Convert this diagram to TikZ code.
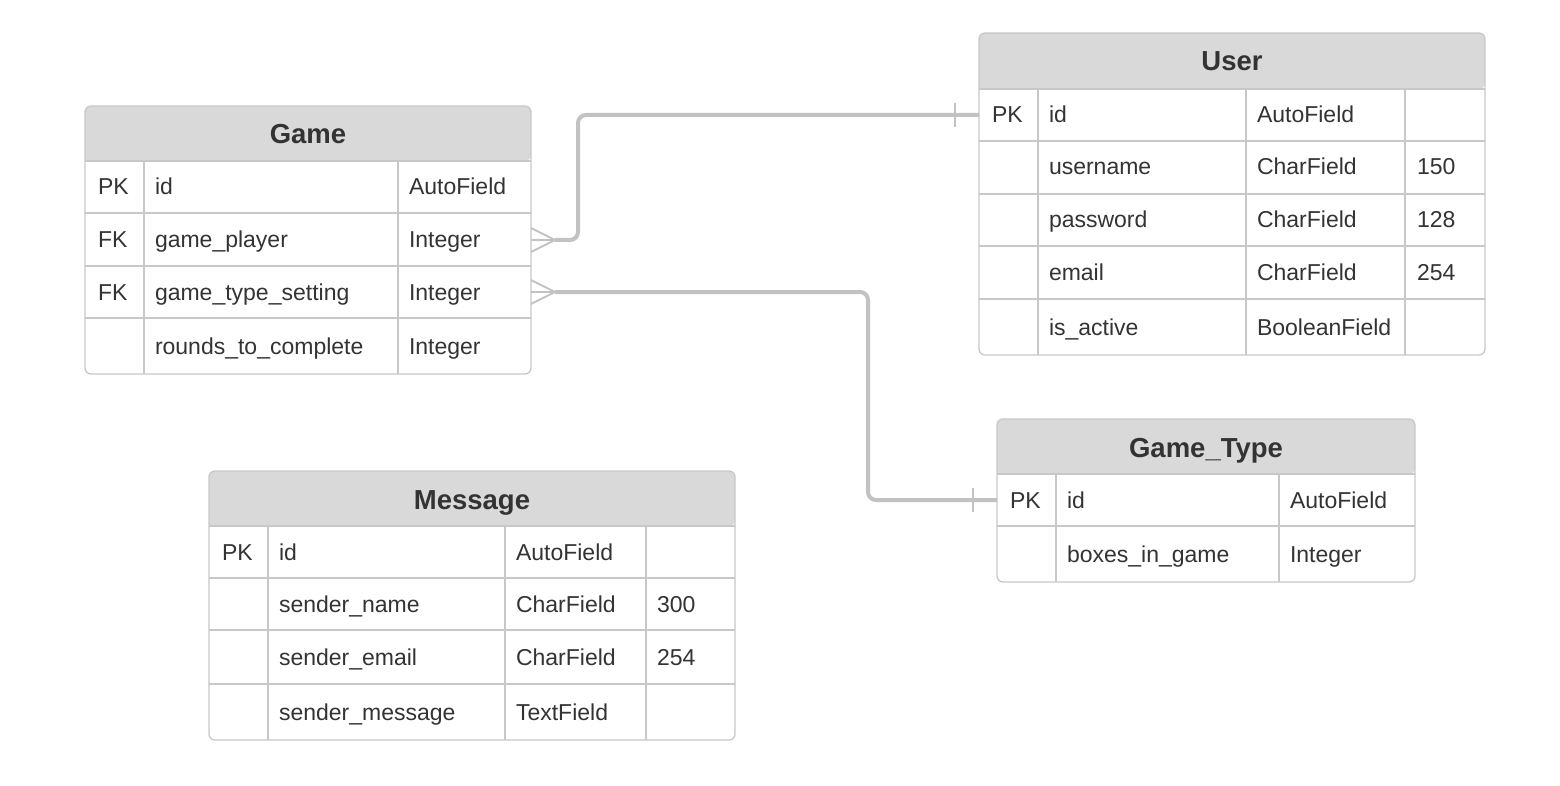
\documentclass[tikz,border=0pt]{standalone}
\usepackage{fontspec}
\setmainfont{Liberation Sans}
\definecolor{ink}{HTML}{333333}
\definecolor{rule}{HTML}{C8C8C8}
\definecolor{headfill}{HTML}{D9D9D9}
\definecolor{linkgray}{HTML}{C2C2C2}
\begin{document}
\begin{tikzpicture}
      [x=1pt,y=-1pt,
       every node/.style={text=ink,font=\fontsize{23}{28}\selectfont,inner sep=0pt,outer sep=0pt},
       title/.style={anchor=base,font=\fontsize{27.5}{32}\selectfont\bfseries},
       field/.style={anchor=base west},
       grid/.style={draw=rule,line width=1.3pt},
       head/.style={fill=headfill},
       link/.style={draw=linkgray,line width=4pt,rounded corners=8pt},
       foot/.style={draw=linkgray,line width=2pt}]
      \useasboundingbox (0,0) rectangle (1560,786);

      % Game
      \path[head,rounded corners=6pt] (85,161) -- (85,106) -- (531,106) -- (531,161) [sharp corners] -- cycle;
      \foreach \y in {161,213,266,318} \draw[grid] (85,\y) -- (531,\y);
      \foreach \x in {144,398} \draw[grid] (\x,161) -- (\x,374);
      \draw[grid,rounded corners=6pt] (85,106) rectangle (531,374);
      \node[title] (game) at (308,144) {Game};
      \foreach \y/\k/\n/\t [count=\i] in {187/PK/id/AutoField, 240/FK/game\_player/Integer,
          292/FK/game\_type\_setting/Integer, 346//rounds\_to\_complete/Integer}
      {
        \node[minimum width=446pt,minimum height=52pt] (game-\i) at (308,\y) {};
        \node[field] at (98,\y+8) {\k};
        \node[field] at (155,\y+8) {\n};
        \node[field] at (409,\y+8) {\t};
      }

      % User
      \path[head,rounded corners=6pt] (979,89) -- (979,33) -- (1485,33) -- (1485,89) [sharp corners] -- cycle;
      \foreach \y in {89,141,194,246,299} \draw[grid] (979,\y) -- (1485,\y);
      \foreach \x in {1038,1246,1405} \draw[grid] (\x,89) -- (\x,355);
      \draw[grid,rounded corners=6pt] (979,33) rectangle (1485,355);
      \node[title] (user) at (1232,71) {User};
      \foreach \y/\k/\n/\t/\l [count=\i] in {115/PK/id/AutoField/, 167//username/CharField/150,
          220//password/CharField/128, 272//email/CharField/254, 327//is\_active/BooleanField/}
      {
        \node[minimum width=506pt,minimum height=52pt] (user-\i) at (1232,\y) {};
        \node[field] at (992,\y+8) {\k};
        \node[field] at (1049,\y+8) {\n};
        \node[field] at (1257,\y+8) {\t};
        \node[field] at (1417,\y+8) {\l};
      }

      % Game_Type
      \path[head,rounded corners=6pt] (997,474) -- (997,419) -- (1415,419) -- (1415,474) [sharp corners] -- cycle;
      \foreach \y in {474,526} \draw[grid] (997,\y) -- (1415,\y);
      \foreach \x in {1056,1279} \draw[grid] (\x,474) -- (\x,582);
      \draw[grid,rounded corners=6pt] (997,419) rectangle (1415,582);
      \node[title] (gtype) at (1206,457) {Game\_Type};
      \foreach \y/\k/\n/\t [count=\i] in {500/PK/id/AutoField, 554//boxes\_in\_game/Integer}
      {
        \node[minimum width=418pt,minimum height=52pt] (gtype-\i) at (1206,\y) {};
        \node[field] at (1010,\y+8) {\k};
        \node[field] at (1067,\y+8) {\n};
        \node[field] at (1290,\y+8) {\t};
      }

      % Message
      \path[head,rounded corners=6pt] (209,526) -- (209,471) -- (735,471) -- (735,526) [sharp corners] -- cycle;
      \foreach \y in {526,578,630,684} \draw[grid] (209,\y) -- (735,\y);
      \foreach \x in {268,505,646} \draw[grid] (\x,526) -- (\x,740);
      \draw[grid,rounded corners=6pt] (209,471) rectangle (735,740);
      \node[title] (message) at (472,509) {Message};
      \foreach \y/\k/\n/\t/\l [count=\i] in {552/PK/id/AutoField/, 604//sender\_name/CharField/300,
          657//sender\_email/CharField/254, 712//sender\_message/TextField/}
      {
        \node[minimum width=526pt,minimum height=52pt] (message-\i) at (472,\y) {};
        \node[field] at (222,\y+8) {\k};
        \node[field] at (279,\y+8) {\n};
        \node[field] at (516,\y+8) {\t};
        \node[field] at (657,\y+8) {\l};
      }

      % relations
      \draw[link] ([xshift=24pt]game-2.east) -- ++(23,0) |- (user-1.west);
      \draw[link] ([xshift=24pt]game-3.east) -- (868,292) |- (gtype-1.west);
      \foreach \r in {game-2,game-3}
      {
        \draw[foot] (\r.east) ++(0,-12) -- ++(24,12) -- ++(-24,12);
        \draw[foot] (\r.east) -- ++(24,0);
      }
      \foreach \r in {user-1,gtype-1}
        \draw[foot] ([xshift=-24pt]\r.west) ++(0,-12) -- ++(0,24);
    \end{tikzpicture}
\end{document}
